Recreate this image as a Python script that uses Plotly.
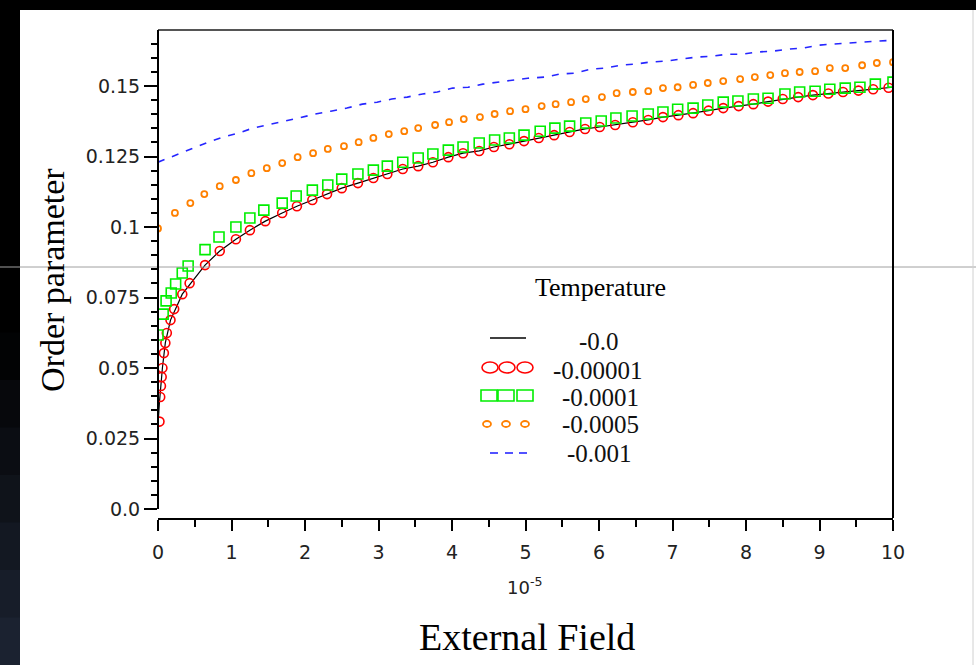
import plotly.graph_objects as go

# ---------------- data ----------------
# T = -0.0 (black line)
x_t0 = [0, 0, 0.02, 0.04, 0.06, 0.10, 0.17, 0.33, 0.64, 0.84, 1.06, 1.25, 1.46, 1.69, 1.89, 2.1, 2.3, 2.5,
        2.72, 2.93, 3.12, 3.33, 3.54, 3.74, 3.95, 4.15, 4.37, 4.57, 4.78, 4.98, 5.18, 5.39, 5.6, 5.81, 6.01,
        6.22, 6.46, 6.67, 6.87, 7.08, 7.28, 7.49, 7.69, 7.9, 8.1, 8.3, 8.5, 8.71, 8.91, 9.12, 9.32, 9.53,
        9.73, 10.0]
y_t0 = [0.0, 0.030, 0.038, 0.045, 0.050, 0.059, 0.067, 0.0762, 0.0865, 0.0915, 0.0957, 0.0989, 0.1021,
        0.105, 0.1074, 0.1096, 0.1117, 0.1138, 0.1156, 0.1174, 0.1188, 0.1206, 0.1216, 0.123, 0.1248,
        0.1262, 0.127, 0.1284, 0.1294, 0.1305, 0.1316, 0.1326, 0.1337, 0.1348, 0.1355, 0.1362, 0.1372,
        0.138, 0.139, 0.1397, 0.1404, 0.1413, 0.1422, 0.1429, 0.1436, 0.1445, 0.1454, 0.1461, 0.1468,
        0.1474, 0.1479, 0.1484, 0.1489, 0.1496]

# T = -0.00001 (red circles)
x_t1 = [0.02, 0.03, 0.04, 0.05, 0.06, 0.08, 0.10, 0.12, 0.17, 0.22, 0.33, 0.43, 0.64, 0.84, 1.06, 1.25,
        1.46, 1.69, 1.89, 2.1, 2.3, 2.5, 2.72, 2.93, 3.12, 3.33, 3.54, 3.74, 3.95, 4.15, 4.37, 4.57, 4.78,
        4.98, 5.18, 5.39, 5.6, 5.81, 6.01, 6.22, 6.46, 6.67, 6.87, 7.08, 7.28, 7.49, 7.69, 7.9, 8.1, 8.3,
        8.5, 8.71, 8.91, 9.12, 9.32, 9.53, 9.73, 9.94]
y_t1 = [0.031, 0.0397, 0.0436, 0.0468, 0.050, 0.0553, 0.0589, 0.0624, 0.067, 0.0709, 0.0762, 0.0801,
        0.0865, 0.0915, 0.0957, 0.0989, 0.1021, 0.105, 0.1074, 0.1096, 0.1117, 0.1138, 0.1156, 0.1174,
        0.1188, 0.1206, 0.1216, 0.123, 0.1248, 0.1262, 0.127, 0.1284, 0.1294, 0.1305, 0.1316, 0.1326,
        0.1337, 0.1348, 0.1355, 0.1362, 0.1372, 0.138, 0.139, 0.1397, 0.1404, 0.1413, 0.1422, 0.1429,
        0.1436, 0.1445, 0.1454, 0.1461, 0.1468, 0.1474, 0.1479, 0.1484, 0.1489, 0.1494]

# T = -0.0001 (green squares)
x_t2 = [0.0, 0.07, 0.11, 0.18, 0.24, 0.33, 0.41, 0.64, 0.83, 1.06, 1.25, 1.44, 1.69, 1.88, 2.1, 2.31,
        2.5, 2.72, 2.93, 3.12, 3.33, 3.54, 3.74, 3.95, 4.15, 4.37, 4.58, 4.78, 4.98, 5.2, 5.4, 5.6, 5.82,
        6.03, 6.23, 6.45, 6.67, 6.87, 7.07, 7.28, 7.48, 7.69, 7.89, 8.1, 8.3, 8.53, 8.73, 8.94, 9.14,
        9.35, 9.55, 9.76, 10.0]
y_t2 = [0.0617, 0.0691, 0.0738, 0.0766, 0.0798, 0.0837, 0.0862, 0.092, 0.0965, 0.1, 0.1032, 0.106,
        0.1085, 0.111, 0.1131, 0.1149, 0.117, 0.1188, 0.1202, 0.1216, 0.123, 0.1245, 0.1259, 0.1273,
        0.1284, 0.1298, 0.1309, 0.1316, 0.1326, 0.134, 0.1351, 0.1358, 0.1369, 0.1376, 0.1387, 0.1394,
        0.1401, 0.1408, 0.1418, 0.1422, 0.1433, 0.1443, 0.1447, 0.1454, 0.1457, 0.1472, 0.1479, 0.1482,
        0.1489, 0.1493, 0.1496, 0.1507, 0.1514]

# T = -0.0005 (orange small circles)
x_t3 = [0.0, 0.23, 0.44, 0.63, 0.84, 1.06, 1.27, 1.48, 1.69, 1.9, 2.11, 2.31, 2.53, 2.73, 2.93, 3.14,
        3.35, 3.54, 3.77, 3.96, 4.16, 4.38, 4.58, 4.79, 5.0, 5.22, 5.41, 5.62, 5.82, 6.04, 6.24, 6.46,
        6.67, 6.87, 7.07, 7.28, 7.48, 7.69, 7.92, 8.12, 8.33, 8.53, 8.73, 8.94, 9.14, 9.35, 9.58, 9.78,
        10.0]
y_t3 = [0.0995, 0.105, 0.1085, 0.1117, 0.1145, 0.1167, 0.1191, 0.1209, 0.1227, 0.1248, 0.1262, 0.1277,
        0.1287, 0.1301, 0.1316, 0.133, 0.134, 0.1351, 0.1362, 0.1372, 0.1383, 0.139, 0.1401, 0.1411,
        0.1418, 0.1429, 0.1436, 0.1443, 0.1454, 0.1461, 0.1475, 0.1479, 0.1482, 0.1493, 0.1496, 0.1504,
        0.1511, 0.1518, 0.1525, 0.1532, 0.1539, 0.1546, 0.155, 0.1553, 0.1564, 0.1564, 0.1574, 0.1582,
        0.1585]

# T = -0.001 (blue dashed)
x_t4 = [0.0, 0.27, 0.48, 0.68, 0.88, 1.09, 1.29, 1.5, 1.73, 1.92, 2.14, 2.35, 2.57, 2.78, 2.98, 3.18,
        3.39, 3.6, 3.8, 4.01, 4.22, 4.42, 4.63, 4.83, 5.03, 5.27, 5.47, 5.67, 5.88, 6.08, 6.29, 6.49,
        6.69, 6.92, 7.13, 7.33, 7.54, 7.74, 7.95, 8.15, 8.37, 8.57, 8.78, 8.98, 9.18, 9.39, 9.62, 9.86,
        10.0]
y_t4 = [0.123, 0.1259, 0.128, 0.1301, 0.1319, 0.1333, 0.1351, 0.1362, 0.1376, 0.1387, 0.1401, 0.1411,
        0.1422, 0.1436, 0.1443, 0.1454, 0.1461, 0.1472, 0.1479, 0.1493, 0.1496, 0.1507, 0.1514, 0.1521,
        0.1528, 0.1532, 0.1543, 0.1546, 0.156, 0.1564, 0.1574, 0.1578, 0.1585, 0.1589, 0.1596, 0.1603,
        0.1606, 0.1613, 0.1613, 0.1621, 0.1624, 0.1631, 0.1635, 0.1645, 0.1649, 0.1652, 0.1656, 0.166,
        0.1663]

legend_title = "Temperature"
legend_labels = ["-0.0", "-0.00001", "-0.0001", "-0.0005", "-0.001"]

x_tickvals = list(range(0, 11))
x_ticktext = [str(v) for v in x_tickvals]
x_minor = [0.5, 1.5, 2.5, 3.5, 4.5, 5.5, 6.5, 7.5, 8.5, 9.5]
y_tickvals = [0.0, 0.025, 0.05, 0.075, 0.1, 0.125, 0.15]
y_ticktext = ["0.0", "0.025", "0.05", "0.075", "0.1", "0.125", "0.15"]
y_minor = [0.005, 0.01, 0.015, 0.02, 0.03, 0.035, 0.04, 0.045, 0.055, 0.06, 0.065, 0.07,
           0.08, 0.085, 0.09, 0.095, 0.105, 0.11, 0.115, 0.12, 0.13, 0.135, 0.14, 0.145,
           0.155, 0.16, 0.165]
y_range = [-0.0032, 0.1699]

# ---------------- geometry ----------------
W, H = 976, 665
L, R, T, B = 158, 893, 30, 518


def px(x):
    return (x - L) / (R - L)


def py(y):
    return (B - y) / (B - T)


RED = "#ff0000"
GREEN = "#00ee00"
ORANGE = "#ff8000"
BLUE = "#2626ff"

fig = go.Figure()
fig.add_trace(go.Scatter(x=x_t0, y=y_t0, mode="lines", line=dict(color="black", width=1.2),
                         showlegend=False, name=legend_labels[0]))
fig.add_trace(go.Scatter(x=x_t1, y=y_t1, mode="markers",
                         marker=dict(symbol="circle-open", size=9, color=RED, line=dict(width=1.6)),
                         showlegend=False, name=legend_labels[1]))
fig.add_trace(go.Scatter(x=x_t2, y=y_t2, mode="markers",
                         marker=dict(symbol="square-open", size=10, color=GREEN, line=dict(width=1.6)),
                         showlegend=False, name=legend_labels[2]))
fig.add_trace(go.Scatter(x=x_t3, y=y_t3, mode="markers",
                         marker=dict(symbol="circle-open", size=6, color=ORANGE, line=dict(width=1.8)),
                         showlegend=False, name=legend_labels[3]))
fig.add_trace(go.Scatter(x=x_t4, y=y_t4, mode="lines",
                         line=dict(color=BLUE, width=1.6, dash="7px,8px"),
                         showlegend=False, name=legend_labels[4]))

shapes = []
# dark surroundings (screenshot frame)
shapes.append(dict(type="rect", xref="paper", yref="paper", x0=px(0), x1=px(W), y0=py(10), y1=py(0),
                   fillcolor="black", line=dict(width=0), layer="above"))
steps = 14
for i in range(steps):
    y0 = 0 + i * (H / steps)
    y1 = y0 + H / steps + 1
    f = max(0.0, (y0 - 300) / (H - 300))
    c = "rgb(%d,%d,%d)" % (int(32 * f), int(40 * f), int(56 * f))
    shapes.append(dict(type="rect", xref="paper", yref="paper", x0=px(0), x1=px(20), y0=py(y1), y1=py(y0),
                       fillcolor=c, line=dict(width=0), layer="above"))
shapes.append(dict(type="line", xref="paper", yref="paper", x0=px(0), x1=px(W), y0=py(267), y1=py(267),
                   line=dict(color="#a0a0a0", width=1), layer="above"))
shapes.append(dict(type="line", xref="paper", yref="paper", x0=px(973), x1=px(973), y0=py(H), y1=py(10),
                   line=dict(color="#d0d0d0", width=1), layer="above"))
# frame: top (grey), right (black), left axis line down to y = 0
shapes.append(dict(type="line", xref="paper", yref="paper", x0=0, x1=1, y0=1, y1=1,
                   line=dict(color="#555555", width=2), layer="above"))
shapes.append(dict(type="line", xref="paper", yref="paper", x0=1, x1=1, y0=0, y1=1,
                   line=dict(color="black", width=2), layer="above"))
shapes.append(dict(type="line", xref="paper", yref="y", x0=0, x1=0, y0=0, y1=y_range[1],
                   line=dict(color="black", width=2), layer="above"))

# legend symbols
shapes.append(dict(type="line", xref="paper", yref="paper", x0=px(490), x1=px(526), y0=py(338), y1=py(338),
                   line=dict(color="black", width=1.5)))
for cx in (490, 507, 525):
    shapes.append(dict(type="circle", xref="paper", yref="paper", x0=px(cx - 8), x1=px(cx + 8),
                       y0=py(373), y1=py(362), line=dict(color=RED, width=1.6)))
for cx in (489, 506, 525):
    shapes.append(dict(type="rect", xref="paper", yref="paper", x0=px(cx - 8), x1=px(cx + 8),
                       y0=py(401), y1=py(390), line=dict(color=GREEN, width=1.6)))
for cx in (487, 506, 525):
    shapes.append(dict(type="circle", xref="paper", yref="paper", x0=px(cx - 4), x1=px(cx + 4),
                       y0=py(427), y1=py(421), line=dict(color=ORANGE, width=1.8)))
for cx in (494, 509, 523):
    shapes.append(dict(type="line", xref="paper", yref="paper", x0=px(cx - 4), x1=px(cx + 4),
                       y0=py(453), y1=py(453), line=dict(color=BLUE, width=1.6)))

serif = "Liberation Serif, Times New Roman, serif"
sans = "DejaVu Sans, sans-serif"
annotations = []


def txt(text, x, y, size, font=serif, angle=0, color="black"):
    annotations.append(dict(text=text, xref="paper", yref="paper", x=px(x), y=py(y), showarrow=False,
                            xanchor="center", yanchor="middle", textangle=angle,
                            font=dict(family=font, size=size, color=color)))


txt(legend_title, 600, 287, 26)
for lab, (lx, ly) in zip(legend_labels, [(599, 341), (598, 370), (600, 397), (600, 424), (599, 453)]):
    txt(lab, lx, ly, 25, color="#111111")
txt("Order parameter", 52, 280, 34, angle=-90)
txt("External Field", 527, 637, 38)
txt("10<sup>-5</sup>", 524, 586, 18, font=sans, color="#222222")

fig.update_layout(
    width=W, height=H,
    margin=dict(l=L, r=W - R, t=T, b=H - B, pad=0),
    paper_bgcolor="white", plot_bgcolor="white",
    showlegend=False,
    shapes=shapes, annotations=annotations,
    xaxis=dict(range=[0, 10], tickmode="array", tickvals=x_tickvals, ticktext=x_ticktext,
               showgrid=False, zeroline=False, showline=True, linecolor="black", linewidth=1.5,
               ticks="outside", ticklen=11, tickwidth=1.5, tickcolor="black",
               tickfont=dict(family=sans, size=19, color="#222222"), ticklabelstandoff=5,
               minor=dict(tickvals=x_minor, ticks="outside", ticklen=7, tickwidth=1.5, tickcolor="black",
                          showgrid=False)),
    yaxis=dict(range=y_range, tickmode="array", tickvals=y_tickvals, ticktext=y_ticktext,
               showgrid=False, zeroline=False, showline=False,
               ticks="outside", ticklen=13, tickwidth=1.5, tickcolor="black",
               tickfont=dict(family=sans, size=19, color="#222222"),
               minor=dict(tickvals=y_minor, ticks="outside", ticklen=6, tickwidth=1.5, tickcolor="black",
                          showgrid=False)),
)

fig.write_html("out.html", config={"displayModeBar": False},
               post_script="document.body.style.margin='0';document.body.style.padding='0';"
                           "document.body.style.overflow='hidden';")
